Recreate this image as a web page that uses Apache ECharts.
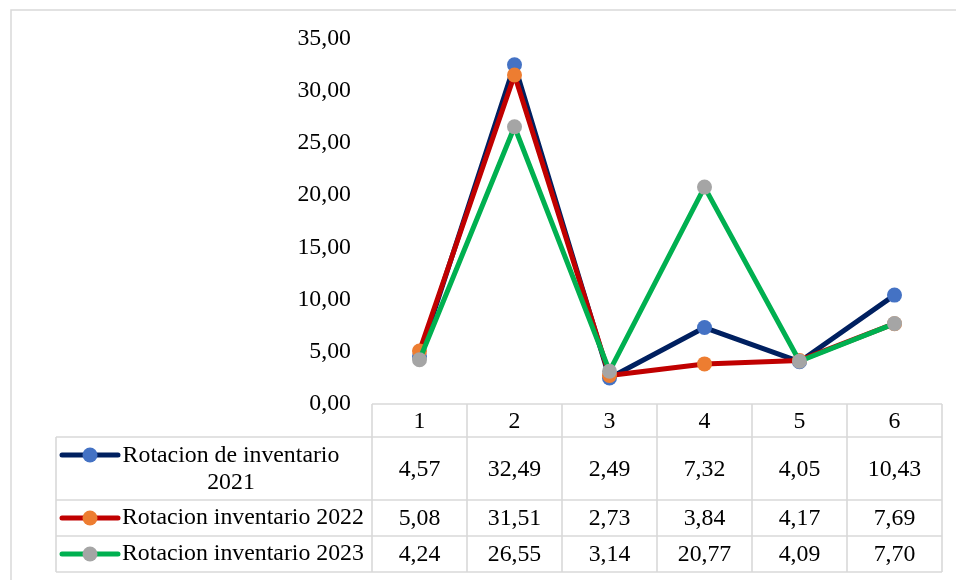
<!DOCTYPE html>
<html>
<head>
<meta charset="utf-8">
<script src="https://cdn.jsdelivr.net/npm/echarts@6/dist/echarts.min.js"></script>
<style>
html,body{margin:0;padding:0;background:#fff;}
#chart{width:956px;height:580px;}
</style>
</head>
<body>
<div id="chart"></div>
<script>
// ---- data ----
var categories = ['1', '2', '3', '4', '5', '6'];
var rot2021 = [4.57, 32.49, 2.49, 7.32, 4.05, 10.43];
var rot2022 = [5.08, 31.51, 2.73, 3.84, 4.17, 7.69];
var rot2023 = [4.24, 26.55, 3.14, 20.77, 4.09, 7.70];
var seriesNames = ['Rotacion de inventario 2021', 'Rotacion inventario 2022', 'Rotacion inventario 2023'];
var legendLabels = ['Rotacion de inventario\n2021', 'Rotacion inventario 2022', 'Rotacion inventario 2023'];
var yTicks = { min: 0, max: 35, interval: 5 };

// ---- styles ----
var FONT = '"Liberation Serif", "Times New Roman", serif';
var FS = 23.8;
var lineColors = ['#002060', '#C00000', '#00B050'];
var markerColors = ['#4472C4', '#ED7D31', '#A5A5A5'];
var gridColor = '#d9d9d9';
var seriesData = [rot2021, rot2022, rot2023];

function fmt(v) { return v.toFixed(2).replace('.', ','); }

var chart = echarts.init(document.getElementById('chart'), null, { renderer: 'canvas' });

var GRID = { left: 372, right: 14, top: 38.5, bottom: 176 };

var series = seriesData.map(function (d, i) {
  return {
    name: seriesNames[i],
    type: 'line',
    data: d,
    symbol: 'circle',
    symbolSize: 15,
    showSymbol: true,
    lineStyle: { color: lineColors[i], width: 5, cap: 'round', join: 'round' },
    itemStyle: { color: markerColors[i], borderWidth: 0 },
    emphasis: { disabled: true },
    z: 2 + i
  };
});

chart.setOption({
  animation: false,
  backgroundColor: '#fff',
  grid: GRID,
  xAxis: {
    type: 'category',
    data: categories,
    boundaryGap: true,
    axisLine: { show: false },
    axisTick: { show: false },
    splitLine: { show: false },
    axisLabel: { margin: 6, color: '#000', fontFamily: FONT, fontSize: FS }
  },
  yAxis: {
    type: 'value',
    min: yTicks.min,
    max: yTicks.max,
    interval: yTicks.interval,
    axisLine: { show: false },
    axisTick: { show: false },
    splitLine: { show: false },
    axisLabel: {
      margin: 21, color: '#000', fontFamily: FONT, fontSize: FS,
      formatter: function (v) { return fmt(v); }
    }
  },
  series: series
});

// ---- data table under the plot ----
var x0 = chart.convertToPixel({ xAxisIndex: 0 }, 0);
var x1 = chart.convertToPixel({ xAxisIndex: 0 }, 1);
var colW = x1 - x0;
var tableLeft = x0 - colW / 2;
var tableRight = tableLeft + colW * categories.length;
var headerTop = chart.convertToPixel({ yAxisIndex: 0 }, 0);
var rowTops = [headerTop + 33, headerTop + 96, headerTop + 132, headerTop + 168];
var legendLeft = 56;

var g = [];
function hline(y, xa, xb) {
  g.push({ type: 'line', shape: { x1: xa, y1: y, x2: xb, y2: y }, style: { stroke: gridColor, lineWidth: 1.6 }, silent: true, z: 1 });
}
function vline(x, ya, yb) {
  g.push({ type: 'line', shape: { x1: x, y1: ya, x2: x, y2: yb }, style: { stroke: gridColor, lineWidth: 1.6 }, silent: true, z: 1 });
}
// outer chart border
g.push({ type: 'rect', shape: { x: 11, y: 10, width: 960, height: 600 }, style: { fill: null, stroke: gridColor, lineWidth: 1.5 }, silent: true, z: 0 });

hline(headerTop, tableLeft, tableRight);
rowTops.forEach(function (y) { hline(y, legendLeft, tableRight); });
vline(legendLeft, rowTops[0], rowTops[3]);
for (var c = 0; c <= categories.length; c++) {
  vline(tableLeft + c * colW, headerTop, rowTops[3]);
}

seriesData.forEach(function (d, i) {
  var yTop = rowTops[i], yBot = rowTops[i + 1];
  var yc = (yTop + yBot) / 2;
  var iconY = i === 0 ? yTop + 18 : yc;
  // legend icon
  g.push({ type: 'line', shape: { x1: 62, y1: iconY, x2: 118, y2: iconY },
    style: { stroke: lineColors[i], lineWidth: 5, lineCap: 'round' }, silent: true, z: 3 });
  g.push({ type: 'circle', shape: { cx: 90, cy: iconY, r: 7.5 },
    style: { fill: markerColors[i] }, silent: true, z: 4 });
  // legend text
  if (i === 0) {
    g.push({ type: 'text', style: { text: legendLabels[i], x: 231, y: yc + 1, align: 'center', verticalAlign: 'middle',
      font: FS + 'px ' + FONT, fill: '#000', lineHeight: 27 }, silent: true, z: 3 });
  } else {
    g.push({ type: 'text', style: { text: legendLabels[i], x: 122, y: yc, align: 'left', verticalAlign: 'middle',
      font: FS + 'px ' + FONT, fill: '#000' }, silent: true, z: 3 });
  }
  // values
  d.forEach(function (v, j) {
    g.push({ type: 'text', style: { text: fmt(v), x: tableLeft + (j + 0.5) * colW, y: yc + 1, align: 'center', verticalAlign: 'middle',
      font: FS + 'px ' + FONT, fill: '#000' }, silent: true, z: 3 });
  });
});

chart.setOption({ graphic: { elements: g } });
</script>
</body>
</html>
